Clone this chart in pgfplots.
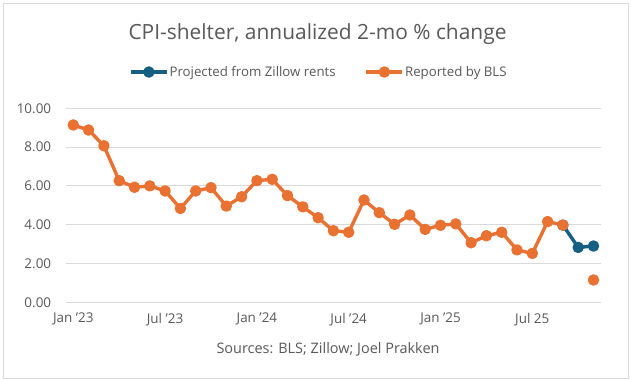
\documentclass[border=0pt]{standalone}
\usepackage{pgfplots}
\pgfplotsset{compat=1.18}
\usepackage{fontspec}
\setmainfont{Open Sans}
\definecolor{txt}{HTML}{595959}
\definecolor{gridc}{HTML}{D9D9D9}
\definecolor{cblue}{HTML}{156082}
\definecolor{corange}{HTML}{E97132}
\begin{document}
\begin{tikzpicture}
\useasboundingbox[fill=white] (0bp,0bp) rectangle (631bp,380bp);
\draw[gridc, line width=0.8bp] (3bp,2bp) rectangle (628bp,377bp);
\node[text=txt, font=\fontsize{21}{25}\selectfont] at (317.5bp,346bp) {CPI-shelter, annualized 2-mo \% change};
\node[text=txt, font=\fontsize{14.5}{17}\selectfont] at (328bp,31bp) {Sources: BLS; Zillow; Joel Prakken};
\begin{axis}[
  at={(65.65bp,77.7bp)}, anchor=south west,
  scale only axis, width=535.5bp, height=194bp,
  xmin=-0.5, xmax=34.5, ymin=0, ymax=10,
  axis line style={draw=none},
  ytick={0,2,4,6,8,10},
  ymajorgrids, xmajorgrids=false,
  y grid style={draw=gridc, line width=0.8bp},
  xtick={0,6,12,18,24,30},
  xticklabels={Jan '23,Jul '23,Jan '24,Jul '24,Jan '25,Jul 25},
  major tick length=0pt,
  tick style={draw=none},
  tick label style={text=txt, font=\fontsize{13.5}{16}\selectfont},
  /pgf/number format/assume math mode=true,
  yticklabel={\pgfmathprintnumber[fixed,fixed zerofill,precision=2]{\tick}},
  yticklabel style={xshift=-11bp},
  xticklabel style={yshift=-7bp},
  unbounded coords=jump,
  legend style={draw=none, fill=none, at={(0.472,1.187)}, anchor=center,
    font=\fontsize{13.3}{16}\selectfont, text=txt,
    /tikz/every even column/.append style={column sep=28bp},
    inner sep=0pt, nodes={inner sep=1bp}},
  legend columns=2,
  legend image code/.code={\draw[mark repeat=2,mark phase=2] plot coordinates {(0bp,0bp) (18bp,0bp) (36bp,0bp)};},
]
\addplot[cblue, line width=3.4bp, mark=*, mark size=4bp, line join=round] coordinates {
(32,3.98) (33,2.83) (34,2.90)
};
\addlegendentry{Projected from Zillow rents}
\addplot[corange, line width=3.4bp, mark=*, mark size=4bp, line join=round] coordinates {
(0,9.14) (1,8.88) (2,8.07) (3,6.27) (4,5.93) (5,6.00) (6,5.74) (7,4.84)
(8,5.74) (9,5.91) (10,4.96) (11,5.44) (12,6.27) (13,6.34) (14,5.50) (15,4.92)
(16,4.36) (17,3.69) (18,3.61) (19,5.27) (20,4.62) (21,4.02) (22,4.50) (23,3.76)
(24,3.97) (25,4.04) (26,3.07) (27,3.43) (28,3.61) (29,2.70) (30,2.52) (31,4.16)
(32,3.98) (33,nan) (34,1.15)
};
\addlegendentry{Reported by BLS}
\end{axis}
\end{tikzpicture}
\end{document}
